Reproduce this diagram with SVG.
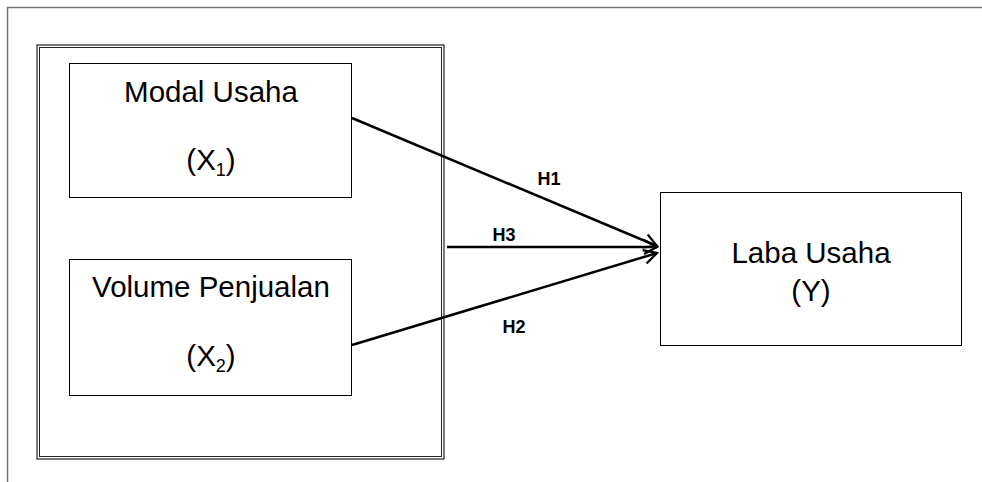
<svg xmlns="http://www.w3.org/2000/svg" width="982" height="482" viewBox="0 0 982 482">
<defs>
<style>
.box{fill:#fff;stroke:#000;stroke-width:1}
.t{font-family:"Liberation Sans",Arial,sans-serif;font-size:29.5px;fill:#000;text-anchor:middle}
.h{font-family:"Liberation Sans",Arial,sans-serif;font-size:18px;font-weight:bold;fill:#000;text-anchor:middle}
.c{fill:none;stroke:#000;stroke-width:2.5}
</style>
<marker id="arr" markerWidth="20" markerHeight="20" refX="16" refY="10" orient="auto" markerUnits="userSpaceOnUse">
<path d="M3,3 L16,10 L3,17" fill="none" stroke="#000" stroke-width="2.2"/>
</marker>
</defs>
<rect width="982" height="482" fill="#fff"/>
<g id="frame">
<path d="M7.5,482 V7.5 H982" fill="none" stroke="#777" stroke-width="1.5"/>
</g>
<g id="group-x">
<rect x="37" y="45" width="407" height="414" fill="none" stroke="#222" stroke-width="1.2"/>
<rect x="39.5" y="47.5" width="402" height="409" fill="none" stroke="#222" stroke-width="1"/>
</g>
<g id="x1">
<rect class="box" x="69.5" y="63.5" width="282" height="134"/>
<text class="t" x="211" y="102">Modal Usaha</text>
<text class="t" x="211" y="170">(X<tspan font-size="18" dy="6">1</tspan><tspan dy="-6">)</tspan></text>
</g>
<g id="x2">
<rect class="box" x="69.5" y="259.5" width="282" height="136"/>
<text class="t" x="211" y="297">Volume Penjualan</text>
<text class="t" x="211" y="366">(X<tspan font-size="18" dy="6">2</tspan><tspan dy="-6">)</tspan></text>
</g>
<g id="y">
<rect class="box" x="660.5" y="192.5" width="301" height="153"/>
<text class="t" x="811" y="263">Laba Usaha</text>
<text class="t" x="811" y="301">(Y)</text>
</g>
<g id="connectors">
<line class="c" x1="352" y1="118" x2="657" y2="246" marker-end="url(#arr)"/>
<line class="c" x1="447" y1="247" x2="657" y2="247" marker-end="url(#arr)"/>
<line class="c" x1="352" y1="345" x2="657" y2="253" marker-end="url(#arr)"/>
<text class="h" x="549" y="185">H1</text>
<text class="h" x="504" y="241">H3</text>
<text class="h" x="514" y="333">H2</text>
</g>
</svg>
